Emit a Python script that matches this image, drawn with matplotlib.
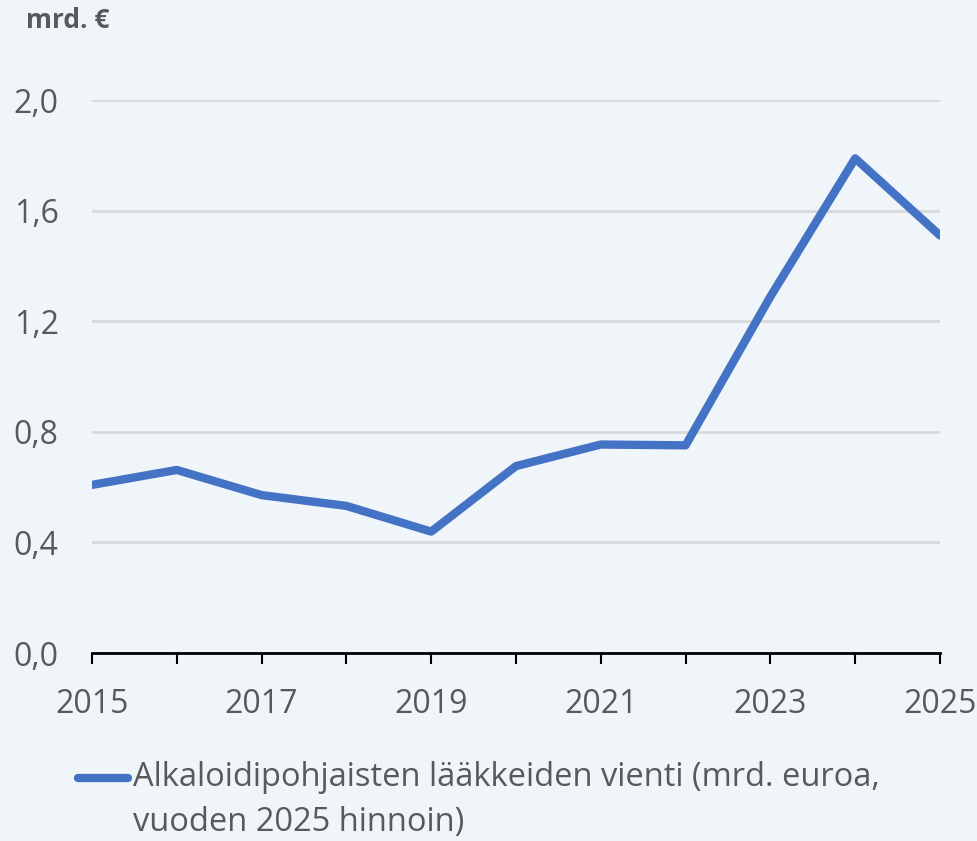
import matplotlib.pyplot as plt
from matplotlib.lines import Line2D

# vuodet ja vienti (mrd. euroa, vuoden 2025 hinnoin)
vuodet = [2015, 2016, 2017, 2018, 2019, 2020, 2021, 2022, 2023, 2024, 2025]
vienti = [0.608, 0.662, 0.571, 0.532, 0.439, 0.676, 0.754, 0.751, 1.289, 1.789, 1.510]

y_ticks = [0.0, 0.4, 0.8, 1.2, 1.6, 2.0]
x_labels = [2015, 2017, 2019, 2021, 2023, 2025]
sarja_rivit = ['Alkaloidipohjaisten lääkkeiden vienti (mrd. euroa,',
               'vuoden 2025 hinnoin)']

bg = '#f0f5fa'
sininen = '#4472c4'
harmaa = '#595959'

plt.rcParams['font.family'] = ['Open Sans', 'DejaVu Sans']

fig = plt.figure(figsize=(9.78, 8.41), dpi=100, facecolor=bg)
ax = fig.add_axes([92/978, 1-653/841, (940-92)/978, (653-100)/841])
ax.set_facecolor(bg)

ax.plot(vuodet, vienti, color=sininen, lw=6, solid_joinstyle='round',
        solid_capstyle='round', zorder=3)

ax.set_xlim(2015, 2025)
ax.set_ylim(0, 2.0)
ax.set_yticks(y_ticks)
ax.set_yticklabels([('%.1f' % v).replace('.', ',') for v in y_ticks])
ax.set_xticks(vuodet)
ax.set_xticklabels([str(v) if v in x_labels else '' for v in vuodet])

ax.grid(axis='y', color='#d9d9d9', lw=2)
ax.set_axisbelow(True)
for s in ['top', 'right', 'left']:
    ax.spines[s].set_visible(False)
ax.spines['bottom'].set_color('black')
ax.spines['bottom'].set_linewidth(2)
ax.spines['bottom'].set_zorder(4)

ax.tick_params(axis='y', length=0, pad=24, labelsize=23, labelcolor=harmaa)
ax.tick_params(axis='x', direction='out', length=8, width=1.5, pad=17,
               labelsize=23, labelcolor=harmaa)

fig.text(26/978, 1-20/841, 'mrd. €', fontsize=19, fontweight='bold',
         color=harmaa, va='center', ha='left')

# selite
fig.add_artist(Line2D([78/978, 128/978], [1-778/841, 1-778/841],
                      color=sininen, lw=6, solid_capstyle='round'))
for i, rivi in enumerate(sarja_rivit):
    fig.text(133/978, 1-(778 + 45*i)/841, rivi, fontsize=23.5, color=harmaa,
             va='center', ha='left')

fig.savefig('out.png', dpi=100, facecolor=bg)
